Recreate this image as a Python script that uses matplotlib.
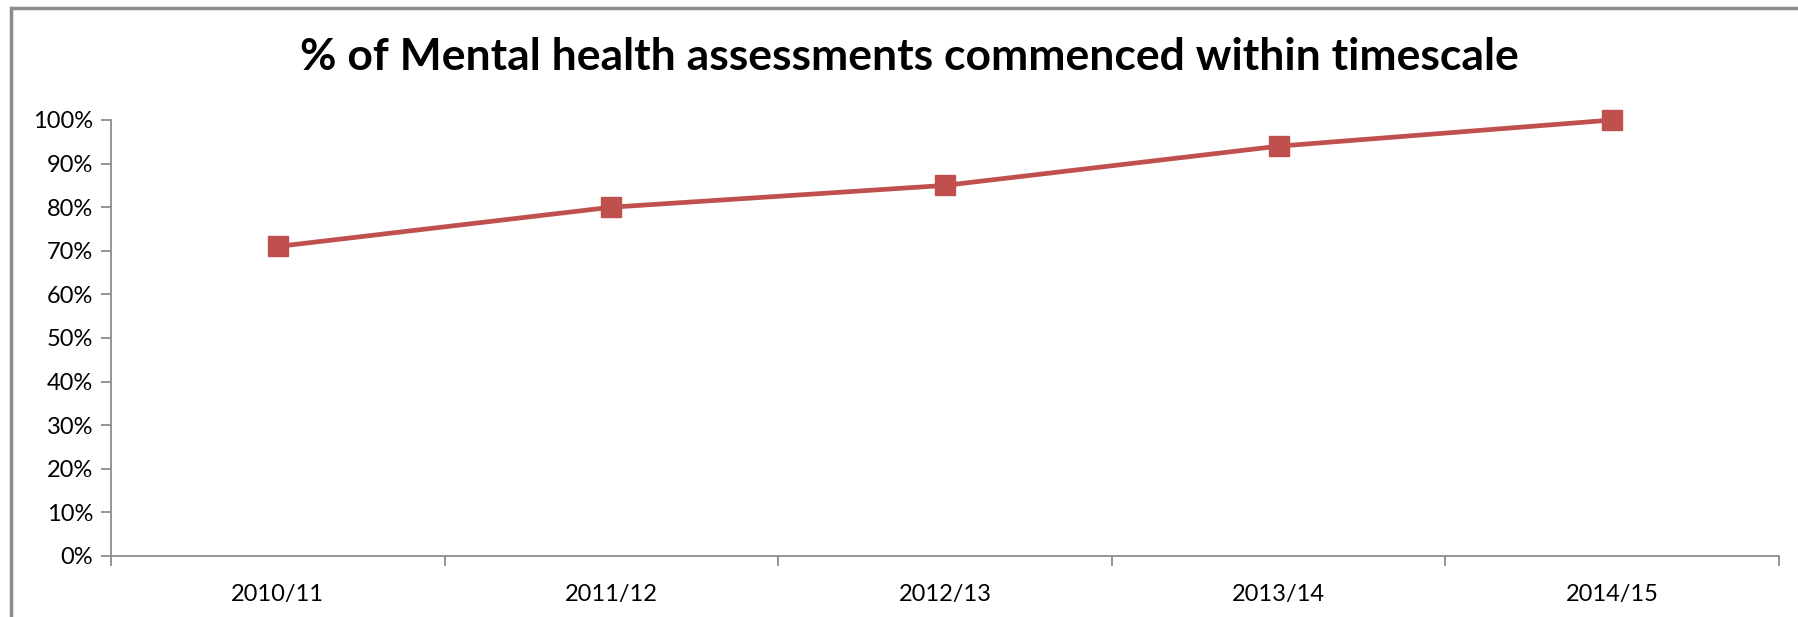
import matplotlib.pyplot as plt
from matplotlib.patches import Rectangle
from matplotlib.ticker import FixedLocator

years = ['2010/11', '2011/12', '2012/13', '2013/14', '2014/15']
pct = [71, 80, 85, 94, 100]
y_ticks = list(range(0, 101, 10))

plt.rcParams['font.family'] = ['Lato', 'DejaVu Sans']

fig = plt.figure(figsize=(17.98, 6.17), dpi=100)
W, H = 1798, 617

# chart frame (runs off the right/bottom edge like the screenshot)
fig.patches.append(Rectangle((11 / W, -0.05), 1.2, 1 - 8 / H + 0.05,
                             transform=fig.transFigure, fill=False,
                             edgecolor='#8c8c8c', linewidth=2.5))

ax = fig.add_axes([111 / W, 1 - 556 / H, (1779 - 111) / W, (556 - 120) / H])
x = list(range(len(years)))
ax.plot(x, pct, color='#C0504D', linewidth=3.4, marker='s', markersize=15,
        markerfacecolor='#C0504D', markeredgecolor='#C0504D', clip_on=False)

ax.set_xlim(-0.5, len(years) - 0.5)
ax.set_ylim(0, 100)
ax.set_yticks(y_ticks)
ax.set_yticklabels([f'{v}%' for v in y_ticks])
ax.set_xticks(x)
ax.set_xticklabels(years)
ax.xaxis.set_minor_locator(FixedLocator([i - 0.5 for i in range(len(years) + 1)]))
ax.tick_params(axis='x', which='major', length=0, pad=20, labelsize=17)
ax.tick_params(axis='x', which='minor', length=7, width=1.3, color='#8c8c8c')
ax.tick_params(axis='y', length=7, width=1.3, color='#8c8c8c', labelsize=17, pad=6)

for s in ['top', 'right']:
    ax.spines[s].set_visible(False)
for s in ['left', 'bottom']:
    ax.spines[s].set_color('#8c8c8c')
    ax.spines[s].set_linewidth(1.3)

fig.text(909 / W, 1 - 57 / H, '% of Mental health assessments commenced within timescale',
         ha='center', va='center', fontsize=32, fontweight='bold')

fig.savefig('out.png', dpi=100)
